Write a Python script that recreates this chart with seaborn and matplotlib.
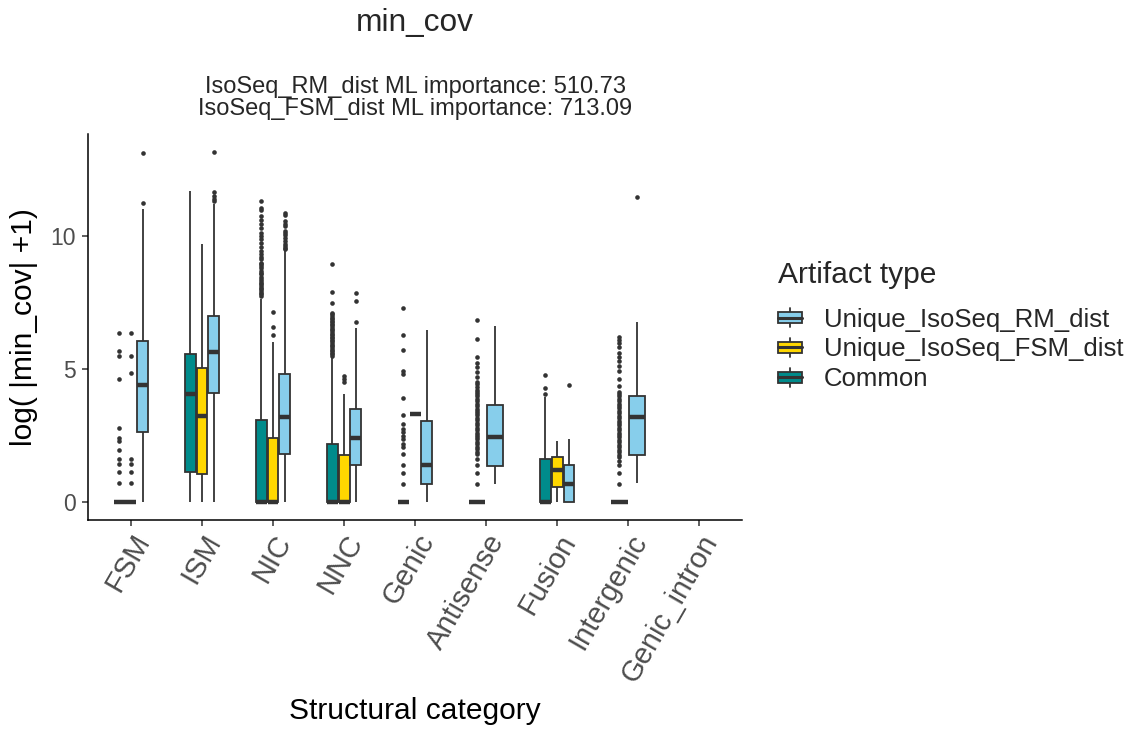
import numpy as np
import pandas as pd
import matplotlib
matplotlib.use("Agg")
import matplotlib.pyplot as plt
import seaborn as sns
from matplotlib.legend_handler import HandlerBase
from matplotlib.patches import Rectangle, Patch
from matplotlib.lines import Line2D

# ---------------- data ----------------
categories = ["FSM", "ISM", "NIC", "NNC", "Genic", "Antisense", "Fusion",
              "Intergenic", "Genic_intron"]
groups = ["Common", "Unique_IsoSeq_FSM_dist", "Unique_IsoSeq_RM_dist"]   # dodge order
legend_order = ["Unique_IsoSeq_RM_dist", "Unique_IsoSeq_FSM_dist", "Common"]
colors = {"Common": "#008B8B", "Unique_IsoSeq_FSM_dist": "#FFD700",
          "Unique_IsoSeq_RM_dist": "#87CEEB"}

# five-number summaries: [lower whisker, Q1, median, Q3, upper whisker]
common_box = {
    "FSM":        [0, 0, 0, 0, 0],
    "ISM":        [0, 1.12, 4.05, 5.56, 11.70],
    "NIC":        [0, 0, 0, 3.08, 7.65],
    "NNC":        [0, 0, 0, 2.19, 5.44],
    "Genic":      [0, 0, 0, 0, 0],
    "Antisense":  [0, 0, 0, 0, 0],
    "Fusion":     [0, 0, 0, 1.60, 3.96],
    "Intergenic": [0, 0, 0, 0, 0],
}
fsm_box = {
    "FSM":    [0, 0, 0, 0, 0],
    "ISM":    [0, 1.05, 3.23, 5.03, 9.70],
    "NIC":    [0, 0, 0, 2.41, 6.00],
    "NNC":    [0, 0, 0, 1.78, 4.06],
    "Genic":  [3.30, 3.30, 3.30, 3.30, 3.30],
    "Fusion": [0, 0.56, 1.19, 1.71, 2.28],
}
rm_box = {
    "FSM":        [0, 2.64, 4.41, 6.06, 11.00],
    "ISM":        [0, 4.11, 5.65, 6.99, 11.20],
    "NIC":        [0, 1.79, 3.21, 4.81, 9.44],
    "NNC":        [0, 1.38, 2.40, 3.48, 6.56],
    "Genic":      [0, 0.69, 1.40, 3.03, 6.46],
    "Antisense":  [0.69, 1.35, 2.46, 3.66, 6.63],
    "Fusion":     [0, 0, 0.69, 1.38, 2.38],
    "Intergenic": [0.71, 1.78, 3.21, 4.00, 6.75],
}

# outliers
common_fliers = {
    "FSM": [0.71, 1.12, 1.42, 1.62, 1.95, 2.29, 2.40, 2.79, 4.62, 5.49, 5.69, 6.34],
    "NIC": [7.75, 7.81, 7.87, 7.93, 8.00, 8.06, 8.12, 8.19, 8.25, 8.31, 8.37, 8.46,
            8.56, 8.62, 8.69, 8.79, 8.87, 8.94, 9.00, 9.12, 9.20, 9.31, 9.44, 9.60,
            9.75, 9.87, 10.00, 10.12, 10.31, 10.44, 10.60, 10.75, 10.96, 11.06, 11.31],
    "NNC": [5.50, 5.55, 5.61, 5.68, 5.73, 5.80, 5.85, 5.92, 5.97, 6.04, 6.09, 6.16,
            6.21, 6.28, 6.33, 6.40, 6.45, 6.52, 6.57, 6.64, 6.69, 6.76, 6.81, 6.88,
            6.93, 7.00, 7.05, 7.12, 7.50, 7.91, 8.94],
    "Genic": [0.69, 1.09, 1.38, 1.79, 2.06, 2.19, 2.38, 2.50, 2.62, 2.75, 2.94, 3.28,
              3.91, 4.81, 4.94, 5.73, 6.28, 7.28],
    "Antisense": [0.69, 1.09, 1.38, 1.63, 1.81, 1.89, 1.99, 2.07, 2.17, 2.25, 2.36,
                  2.44, 2.53, 2.61, 2.71, 2.79, 2.90, 2.98, 3.07, 3.15, 3.26, 3.34,
                  3.43, 3.51, 3.61, 3.70, 3.79, 3.87, 3.98, 4.06, 4.15, 4.23, 4.34,
                  4.42, 4.51, 4.69, 4.87, 5.06, 5.21, 5.46, 6.14, 6.85],
    "Fusion": [4.06, 4.28, 4.78],
    "Intergenic": [0.69, 1.10, 1.38, 1.56, 1.69, 1.78, 1.87, 1.97, 2.06, 2.15, 2.25,
                   2.33, 2.43, 2.52, 2.61, 2.70, 2.79, 2.88, 2.97, 3.06, 3.15, 3.24,
                   3.33, 3.42, 3.52, 3.61, 3.70, 3.79, 3.88, 3.97, 4.05, 4.12, 4.38,
                   4.63, 4.94, 5.13, 5.31, 5.44, 5.62, 5.81, 5.96, 6.09, 6.21],
}
fsm_fliers = {
    "FSM": [0.71, 1.12, 1.42, 1.62, 4.85, 5.49, 6.34],
    "NIC": [6.28, 6.59, 7.15],
    "NNC": [4.50, 4.63, 4.75],
}
rm_fliers = {
    "FSM": [11.23, 13.11],
    "ISM": [11.30, 11.40, 11.52, 11.64, 13.16],
    "NIC": [9.50, 9.56, 9.62, 9.71, 9.81, 9.94, 10.04, 10.12, 10.19, 10.37, 10.46,
            10.56, 10.79, 10.87],
    "NNC": [6.75, 7.54, 7.84],
    "Fusion": [4.40],
    "Intergenic": [11.46],
}

title = "min_cov"
subtitle_lines = ["IsoSeq_RM_dist ML importance: 510.73",
                  "IsoSeq_FSM_dist ML importance: 713.09"]
xlabel = "Structural category"
ylabel = "log( |min_cov| +1)"
legend_title = "Artifact type"
yticks = [0, 5, 10]

# ---------------- tables ----------------
box_tables = {"Common": common_box, "Unique_IsoSeq_FSM_dist": fsm_box,
              "Unique_IsoSeq_RM_dist": rm_box}
flier_tables = {"Common": common_fliers, "Unique_IsoSeq_FSM_dist": fsm_fliers,
                "Unique_IsoSeq_RM_dist": rm_fliers}

box_df = pd.DataFrame([(c, g, v) for g, tab in box_tables.items()
                       for c, vals in tab.items() for v in vals],
                      columns=["category", "group", "value"])
# groups present in each category (in dodge order)
present = {c: tuple(g for g in groups if c in box_tables[g]) for c in categories}

BOX_W = 0.5
EDGE = "#333333"

# ---------------- style ----------------
sns.set_theme(style="ticks")
plt.rcParams["font.family"] = ["Liberation Sans", "DejaVu Sans"]

fig = plt.figure(figsize=(11.36, 7.34), dpi=100)
ax = fig.add_axes([0.07773, 0.29210, 0.57535, 0.52480])

# boxes: one call per set of groups so that boxes share each category's width
for combo in sorted(set(p for p in present.values() if p)):
    cats = [c for c in categories if present[c] == combo]
    sub = box_df[box_df["category"].isin(cats)]
    sns.boxplot(data=sub, x="category", y="value", hue="group",
                order=categories, hue_order=list(combo), palette=colors,
                saturation=1, width=BOX_W, gap=0.08, whis=(0, 100),
                showfliers=False, showcaps=False, linecolor=EDGE, linewidth=1.3,
                medianprops={"linewidth": 3.2, "color": EDGE},
                legend=False, ax=ax)

# outliers placed at the dodged slot of their box
fl_rows = []
for g, tab in flier_tables.items():
    for c, vals in tab.items():
        combo = present[c]
        n = len(combo)
        off = BOX_W * ((combo.index(g) + 0.5) / n - 0.5)
        for v in vals:
            fl_rows.append((categories.index(c) + off, v))
fl_df = pd.DataFrame(fl_rows, columns=["xpos", "value"])
sns.scatterplot(data=fl_df, x="xpos", y="value", color=EDGE, s=11, linewidth=0,
                legend=False, ax=ax, zorder=3)

# ---------------- axes ----------------
ax.set_xlim(-0.6, 8.6)
ax.set_ylim(-0.66, 13.82)
ax.set_xticks(range(len(categories)))
ax.set_xticklabels(categories)
ax.set_yticks(yticks)
ax.set_yticklabels([str(t) for t in yticks])
for side in ("top", "right"):
    ax.spines[side].set_visible(False)
for side in ("left", "bottom"):
    ax.spines[side].set_color("black")
    ax.spines[side].set_linewidth(1.1)
ax.tick_params(axis="both", colors=EDGE, width=1.1, length=4,
               labelcolor="#4D4D4D")
ax.tick_params(axis="y", pad=5, labelsize=16.5)
ax.tick_params(axis="x", pad=3, labelsize=21)
for lab in ax.get_xticklabels():
    lab.set(rotation=60, ha="right", va="top", rotation_mode="anchor")
ax.grid(False)

ax.set_xlabel(xlabel, fontsize=21.6, color="black")
ax.xaxis.set_label_coords(0.5, -0.5177)
ax.xaxis.label.set_va("baseline")
ax.set_ylabel(ylabel, fontsize=21.6, color="black")
ax.yaxis.set_label_coords(-0.0762, 0.5)

cx = 0.07773 + 0.57535 / 2
fig.text(cx, 1 - 31 / 734, title, ha="center", va="baseline", fontsize=22.8)
fig.text(cx, 1 - 93 / 734, subtitle_lines[0], ha="center", va="baseline", fontsize=17)
fig.text(cx, 1 - 115 / 734, subtitle_lines[1], ha="center", va="baseline", fontsize=17)


# ---------------- legend ----------------
class BoxKey(HandlerBase):
    def create_artists(self, legend, orig_handle, xdescent, ydescent, width,
                       height, fontsize, trans):
        x0, y0 = -xdescent, -ydescent
        bh = 0.58 * height
        by = y0 + (height - bh) / 2
        whisk = Line2D([x0 + width / 2] * 2, [y0, y0 + height], color=EDGE, lw=1.3)
        box = Rectangle((x0, by), width, bh, facecolor=orig_handle.get_facecolor(),
                        edgecolor=EDGE, lw=1.3)
        med = Line2D([x0, x0 + width], [y0 + height / 2] * 2, color=EDGE, lw=2.2)
        for a in (whisk, box, med):
            a.set_transform(trans)
        return [whisk, box, med]


fig.text(778 / 1136, 1 - 283 / 734, legend_title, ha="left", va="baseline",
         fontsize=21.6)
handles = [Patch(facecolor=colors[g]) for g in legend_order]
leg = fig.legend(handles, legend_order, handler_map={Patch: BoxKey()},
                 loc="upper left", bbox_to_anchor=(778 / 1136, 1 - 307.5 / 734),
                 bbox_transform=fig.transFigure, frameon=False, borderpad=0,
                 borderaxespad=0, fontsize=18.5, handlelength=0.93,
                 handleheight=0.74, handletextpad=0.85, labelspacing=0.23)

fig.savefig("out.png", dpi=100)
